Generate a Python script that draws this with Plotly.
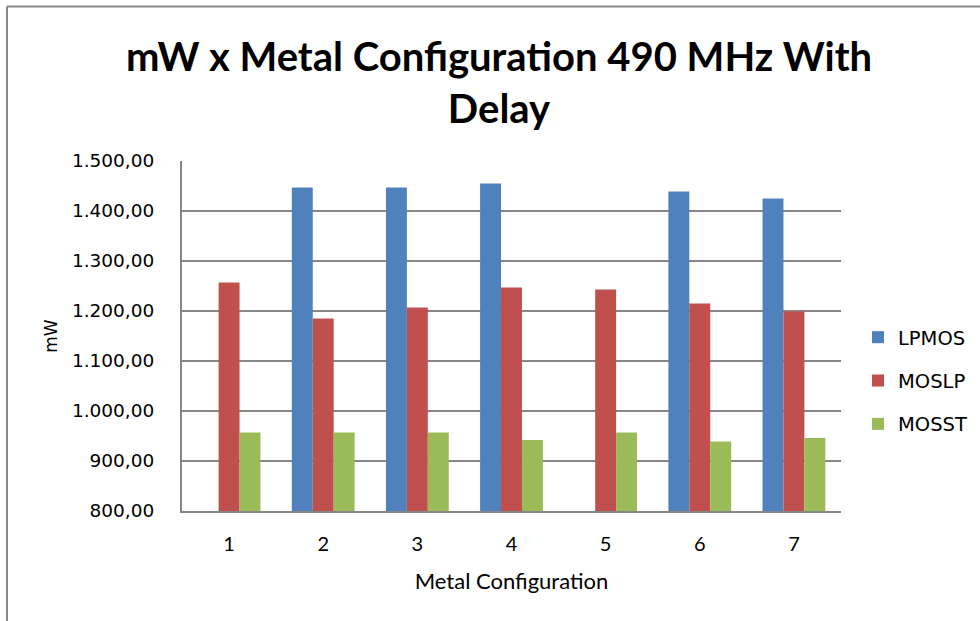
import plotly.graph_objects as go

categories = ["1", "2", "3", "4", "5", "6", "7"]
lpmos = [None, 1447, 1447, 1455, None, 1439, 1425]
moslp = [1257, 1185, 1207, 1247, 1243, 1215, 1199]
mosst = [957, 957, 957, 942, 957, 939, 946]
series_names = ["LPMOS", "MOSLP", "MOSST"]
colors = ["#4F81BD", "#C0504D", "#9BBB59"]

W, H = 980, 621
L, R, T, B = 182, 841, 161, 511

fig = go.Figure()
for name, vals, col in zip(series_names, [lpmos, moslp, mosst], colors):
    fig.add_trace(go.Bar(x=categories, y=vals, name=name, marker_color=col,
                         marker_line_width=0, legendgroup=name))

pw, ph = R - L, B - T
def px2x(p):
    return (p - L) / pw
def py2y(p):
    return (B - p) / ph

fig.update_layout(
    width=W, height=H,
    margin=dict(l=L, r=W - R, t=T, b=H - B, autoexpand=False),
    paper_bgcolor="white", plot_bgcolor="white",
    separators=",.",
    barmode="group", bargap=0.333, bargroupgap=0,
    title=dict(text="<b>mW x Metal Configuration 490 MHz With<br>Delay</b>",
               font=dict(family="Lato", size=40, color="black"),
               x=499 / W, xref="container", xanchor="center",
               y=1 - 71 / H, yref="container", yanchor="middle"),
    xaxis=dict(type="category", showgrid=False, showline=True, linecolor="#868686",
               linewidth=2, ticks="", ticklabelstandoff=14,
               tickfont=dict(family="Lato", size=20, color="black"),
               title=dict(text="Metal Configuration", standoff=20,
                          font=dict(family="Lato", size=22, color="black"))),
    yaxis=dict(range=[800, 1500], dtick=100, tickformat=",.2f",
               showgrid=True, gridcolor="#868686", gridwidth=1.5,
               showline=True, linecolor="#868686", linewidth=2, zeroline=False,
               ticks="", ticklabelstandoff=22,
               tickfont=dict(family="DejaVu Sans", size=18.5, color="black"),
               title=dict(text="mW", standoff=10,
                          font=dict(family="DejaVu Sans", size=17, color="black"))),
    legend=dict(x=px2x(858), xanchor="left", y=py2y(381), yanchor="middle",
                font=dict(family="DejaVu Sans", size=19.5, color="black"),
                tracegroupgap=15, bgcolor="rgba(0,0,0,0)"),
    shapes=[
        dict(type="line", xref="paper", yref="paper", x0=px2x(7), x1=px2x(W + 5),
             y0=py2y(6.5), y1=py2y(6.5), line=dict(color="#888888", width=2)),
        dict(type="line", xref="paper", yref="paper", x0=px2x(7), x1=px2x(7),
             y0=py2y(6.5), y1=py2y(H + 5), line=dict(color="#888888", width=2)),
    ],
)

fig.write_html("out.html")
